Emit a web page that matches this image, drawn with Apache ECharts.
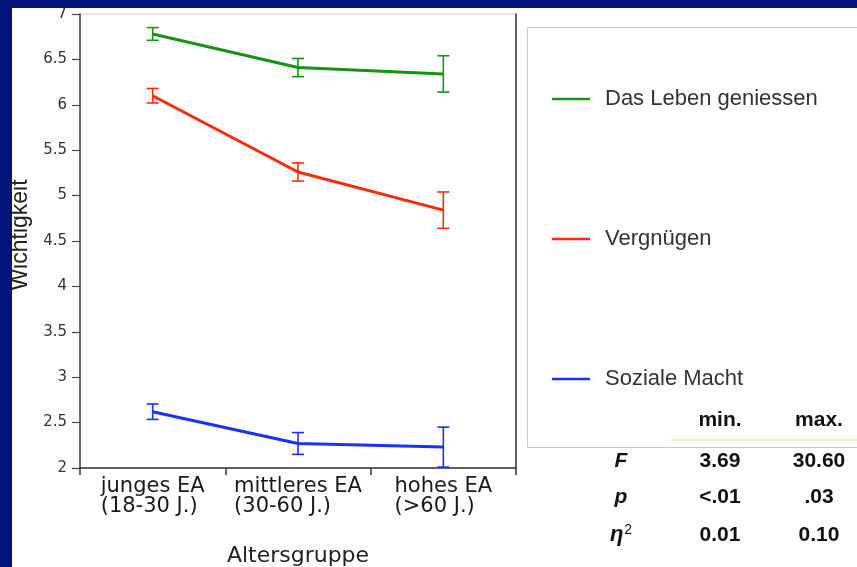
<!DOCTYPE html>
<html>
<head>
<meta charset="utf-8">
<script src="https://cdn.jsdelivr.net/npm/echarts@6/dist/echarts.min.js"></script>
<style>html,body{margin:0;padding:0;background:#04137a;}#c{width:857px;height:567px;}</style>
</head>
<body>
<div id="c"></div>
<script>
// ---- data ----
const categories = ['junges EA\n(18-30 J.)', 'mittleres EA\n(30-60 J.)', 'hohes EA\n(>60 J.)'];
const seriesNames = ['Das Leben geniessen', 'Vergnügen', 'Soziale Macht'];
const lebenValues = [6.78, 6.41, 6.34];
const lebenErrors = [0.07, 0.10, 0.20];
const vergnuegenValues = [6.10, 5.26, 4.84];
const vergnuegenErrors = [0.08, 0.10, 0.20];
const machtValues = [2.62, 2.27, 2.23];
const machtErrors = [0.085, 0.12, 0.22];
const yTicks = { min: 2, max: 7, interval: 0.5 };
const tableHeader = ['min.', 'max.'];
const rowLabels = ['F', 'p', 'η2'];
const minValues = ['3.69', '<.01', '0.01'];
const maxValues = ['30.60', '.03', '0.10'];

const colors = ['#139413', '#ff2a0a', '#1632ff'];
const values = [lebenValues, vergnuegenValues, machtValues];
const errors = [lebenErrors, vergnuegenErrors, machtErrors];

const chart = echarts.init(document.getElementById('c'), null, { renderer: 'canvas' });

const series = [];
values.forEach((vals, k) => {
  series.push({
    name: seriesNames[k],
    type: 'line',
    data: vals,
    symbol: 'none',
    showSymbol: false,
    lineStyle: { color: colors[k], width: 3 },
    itemStyle: { color: colors[k] },
    z: 3
  });
});
values.forEach((vals, k) => {
  series.push({
    name: seriesNames[k] + ' Fehler',
    type: 'custom',
    data: vals.map((v, i) => [i, v, v + errors[k][i], v - errors[k][i]]),
    renderItem: function (params, api) {
      const hi = api.coord([api.value(0), api.value(2)]);
      const lo = api.coord([api.value(0), api.value(3)]);
      const hw = 6;
      const st = { stroke: colors[k], lineWidth: 1.6 };
      return {
        type: 'group',
        children: [
          { type: 'line', shape: { x1: hi[0], y1: hi[1], x2: lo[0], y2: lo[1] }, style: st },
          { type: 'line', shape: { x1: hi[0] - hw, y1: hi[1], x2: hi[0] + hw, y2: hi[1] }, style: st },
          { type: 'line', shape: { x1: lo[0] - hw, y1: lo[1], x2: lo[0] + hw, y2: lo[1] }, style: st }
        ]
      };
    },
    z: 4
  });
});

// table graphic
const tableFont = 'bold 21px "Liberation Sans", Arial, sans-serif';
const colMinX = 720, colMaxX = 819, labelX = 621;
const headerY = 420, rowYs = [461, 497, 535];
const graphics = [
  { type: 'rect', shape: { x: 12, y: 8, width: 845, height: 559 }, style: { fill: '#ffffff' }, z: -20, silent: true },
  { type: 'rect', shape: { x: 527.5, y: 27.5, width: 340, height: 420 }, style: { fill: '#ffffff', stroke: '#c9c9c9', lineWidth: 1 }, z: -10, silent: true },
  { type: 'line', shape: { x1: 671, y1: 440, x2: 857, y2: 440 }, style: { stroke: '#faf3c2', lineWidth: 2 }, z: 10 },
  { type: 'rect', shape: { x: 0, y: 0, width: 857, height: 8 }, style: { fill: '#04137a' }, z: 100, silent: true },
  { type: 'rect', shape: { x: 0, y: 0, width: 12, height: 567 }, style: { fill: '#04137a' }, z: 100, silent: true }
];
tableHeader.forEach((t, i) => {
  graphics.push({ type: 'text', x: i === 0 ? colMinX : colMaxX, y: headerY, z: 20,
    style: { text: t, font: tableFont, fill: '#111', align: 'center', verticalAlign: 'middle' } });
});
rowLabels.forEach((lab, r) => {
  const isEta = lab.indexOf('η') === 0;
  graphics.push({ type: 'text', x: labelX, y: rowYs[r], z: 20,
    style: isEta ? {
      text: '{i|η}{s|2}', align: 'center', verticalAlign: 'middle',
      rich: { i: { font: 'italic bold 22px "Liberation Sans", Arial, sans-serif', fill: '#111' },
              s: { font: '14px "Liberation Sans", Arial, sans-serif', fill: '#111', padding: [0, 0, 9, 1] } }
    } : { text: lab, font: 'italic ' + tableFont, fill: '#111', align: 'center', verticalAlign: 'middle' } });
  graphics.push({ type: 'text', x: colMinX, y: rowYs[r], z: 20,
    style: { text: minValues[r], font: tableFont, fill: '#111', align: 'center', verticalAlign: 'middle' } });
  graphics.push({ type: 'text', x: colMaxX, y: rowYs[r], z: 20,
    style: { text: maxValues[r], font: tableFont, fill: '#111', align: 'center', verticalAlign: 'middle' } });
});

const option = {
  backgroundColor: '#04137a',
  animation: false,
  grid: { left: 80, right: 341, top: 14, bottom: 99, outerBoundsMode: 'none', containLabel: false,
          show: true, borderColor: '#cccccc', borderWidth: 1, backgroundColor: 'transparent' },
  legend: {
    data: seriesNames.map(n => ({ name: n, icon: 'rect' })),
    orient: 'vertical',
    left: 552,
    top: 88,
    padding: 0,
    itemWidth: 38,
    itemHeight: 2.5,
    itemGap: 118,
    textStyle: { fontFamily: '"Liberation Sans", Arial, sans-serif', fontSize: 22, color: '#333', padding: [0, 0, 0, 10] }
  },
  xAxis: {
    type: 'category',
    data: categories,
    boundaryGap: true,
    name: 'Altersgruppe',
    nameLocation: 'middle',
    nameGap: 77,
    nameTextStyle: { fontFamily: '"DejaVu Sans", sans-serif', fontSize: 22, color: '#222' },
    axisLine: { lineStyle: { color: '#333', width: 1.5 } },
    axisTick: { show: true, length: 7, lineStyle: { color: '#333', width: 1.5 } },
    axisLabel: {
      margin: 9,
      interval: 0,
      formatter: function (v) { return v.split('\n').map(s => '{a|' + s + '}').join('\n'); },
      rich: { a: { align: 'left', fontFamily: '"DejaVu Sans", sans-serif', fontSize: 21, lineHeight: 20, color: '#1a1a1a' } }
    },
    splitLine: { show: false }
  },
  yAxis: [{
    type: 'value',
    min: yTicks.min,
    max: yTicks.max,
    interval: yTicks.interval,
    name: 'Wichtigkeit',
    nameLocation: 'middle',
    nameGap: 46,
    nameTextStyle: { fontFamily: '"Liberation Sans", Arial, sans-serif', fontSize: 23, color: '#222', padding: [0, 0, 0, 12] },
    axisLine: { show: true, lineStyle: { color: '#444', width: 1.5 } },
    axisTick: { show: true, length: 8, lineStyle: { color: '#444', width: 1.2 } },
    axisLabel: { margin: 13, fontFamily: '"DejaVu Sans", sans-serif', fontSize: 15, color: '#333' },
    splitLine: { show: false }
  }, {
    type: 'value',
    position: 'right',
    min: yTicks.min,
    max: yTicks.max,
    interval: yTicks.interval,
    axisLine: { show: true, lineStyle: { color: '#333', width: 1.5 } },
    axisTick: { show: false },
    axisLabel: { show: false },
    splitLine: { show: false }
  }],
  graphic: graphics,
  series: series
};
chart.setOption(option);
</script>
</body>
</html>
